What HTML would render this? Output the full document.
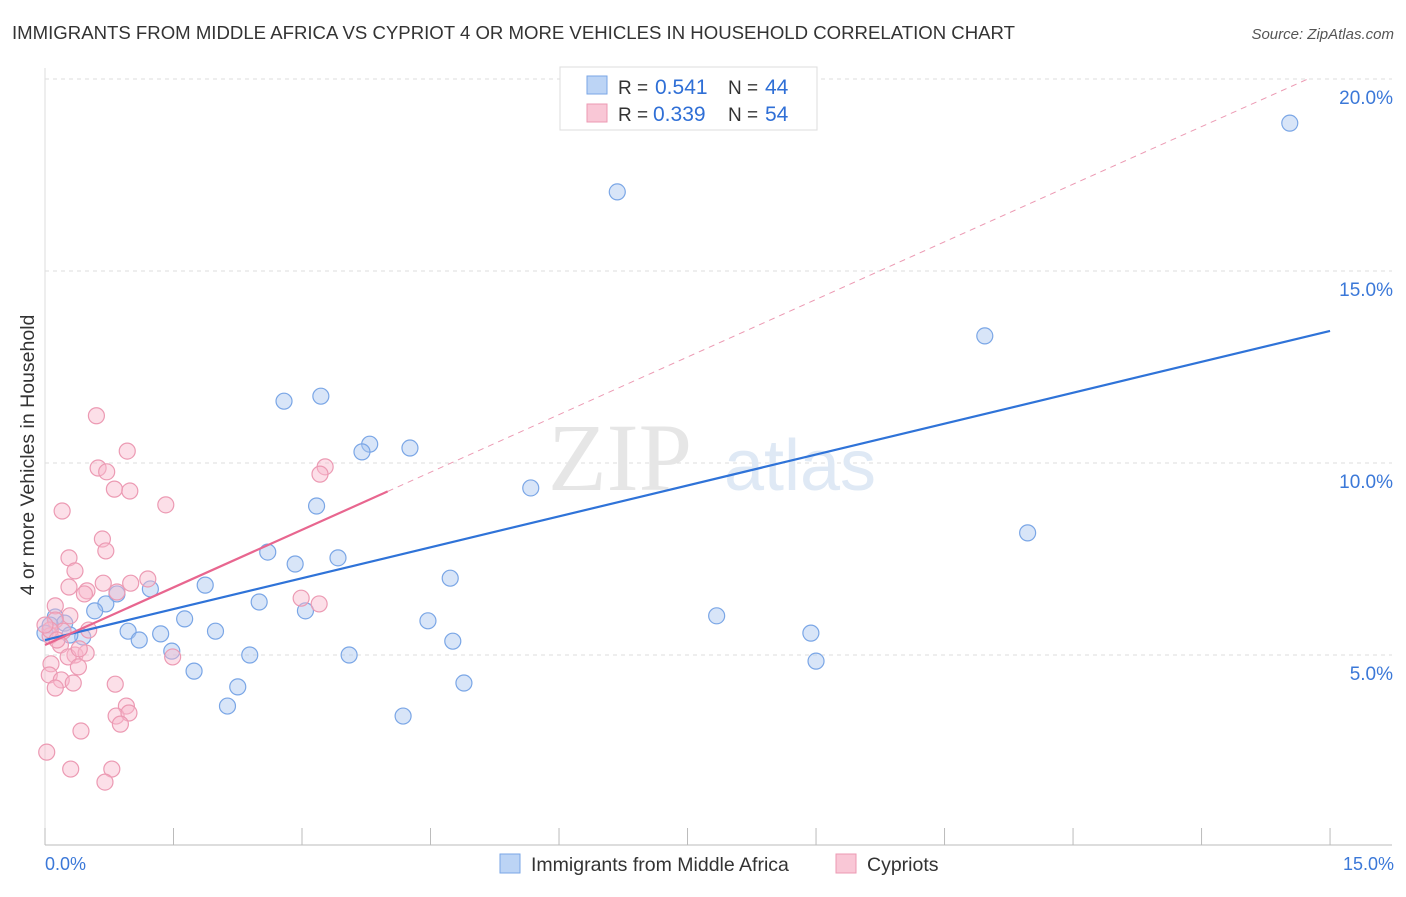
<!DOCTYPE html>
<html><head><meta charset="utf-8"><style>
body{margin:0;background:#fff;font-family:"Liberation Sans",sans-serif;}
</style></head><body>
<svg width="1406" height="892" xmlns="http://www.w3.org/2000/svg">
<text x="12" y="39" font-size="18" fill="#333" textLength="1003" lengthAdjust="spacingAndGlyphs">IMMIGRANTS FROM MIDDLE AFRICA VS CYPRIOT 4 OR MORE VEHICLES IN HOUSEHOLD CORRELATION CHART</text>
<text x="1394" y="39" font-size="15" fill="#555" font-style="italic" text-anchor="end">Source: ZipAtlas.com</text>
<g id="grid"></g>
<text x="620" y="490" font-size="96" fill="#e6e6e6" font-family="Liberation Serif" text-anchor="middle">ZIP</text>
<text x="800" y="490" font-size="72" fill="#dfe9f5" text-anchor="middle">atlas</text>
<g id="pts"></g>
<g id="lines"></g>
<text x="34" y="455" font-size="19.5" fill="#333" text-anchor="middle" transform="rotate(-90 34 455)">4 or more Vehicles in Household</text>
<text x="45" y="870" font-size="18" fill="#3b78d8">0.0%</text>
<text x="1394" y="870" font-size="18" fill="#3b78d8" text-anchor="end">15.0%</text>
<g>
<rect x="560" y="67" width="257" height="63" fill="#fff" stroke="#ddd"/>
<rect x="587" y="76" width="20" height="18" fill="#bcd4f5" stroke="#7aa6e6"/>
<text x="618" y="94" font-size="19" fill="#333">R =</text>
<text x="655" y="94" font-size="21" fill="#2f6fd6">0.541</text>
<text x="728" y="94" font-size="19" fill="#333">N =</text>
<text x="765" y="94" font-size="21" fill="#2f6fd6">44</text>
<rect x="587" y="104" width="20" height="18" fill="#f9c7d6" stroke="#ec9ab3"/>
<text x="618" y="121" font-size="19" fill="#333">R =</text>
<text x="653" y="121" font-size="21" fill="#2f6fd6">0.339</text>
<text x="728" y="121" font-size="19" fill="#333">N =</text>
<text x="765" y="121" font-size="21" fill="#2f6fd6">54</text>
</g>
<g>
<rect x="500" y="854" width="20" height="19" fill="#bcd4f5" stroke="#7aa6e6"/>
<text x="531" y="871" font-size="19.5" fill="#333">Immigrants from Middle Africa</text>
<rect x="836" y="854" width="20" height="19" fill="#f9c7d6" stroke="#ec9ab3"/>
<text x="867" y="871" font-size="19.5" fill="#333">Cypriots</text>
</g>
</svg>
<script>
const yTicks=[5,10,15,20];
const xTicks=[0,1.5,3,4.5,6,7.5,9,10.5,12,13.5,15];
const blueX=[14.53,6.68,10.97,3.22,2.79,3.79,3.7,4.26,5.67,3.17,11.47,2.6,2.92,3.42,4.73,1.87,1.23,0.84,0.71,0.58,2.5,3.04,1.63,4.47,7.84,0.97,1.35,1.99,1.10,4.76,8.94,0.12,0.23,0.44,0.29,1.48,2.39,3.55,9.0,1.74,2.25,4.89,2.13,4.18,0.06,0];
const blueY=[18.85,17.06,13.31,11.74,11.61,10.49,10.29,10.39,9.35,8.88,8.18,7.68,7.37,7.53,7.0,6.82,6.72,6.59,6.33,6.15,6.38,6.15,5.94,5.89,6.02,5.62,5.55,5.62,5.39,5.36,5.57,5.99,5.83,5.47,5.52,5.1,5.0,5.0,4.84,4.58,4.17,4.27,3.67,3.41,5.78,5.57];
const pinkX=[0.6,0.96,0.62,0.72,3.27,3.21,0.81,0.99,1.41,0.2,0.67,0.71,0.28,0.35,1.2,1.0,0.68,0.28,0.49,0.84,0.46,2.99,3.2,0.12,0.29,0.12,0.51,0.21,0.06,0.18,0.35,0.27,0.48,0.4,1.49,0.07,0.39,0.05,0.19,0.33,0.82,0.12,0.95,0.83,0.98,0.88,0.42,0.02,0.3,0.78,0.7,0.06,0,0.14];
const pinkY=[11.23,10.31,9.87,9.77,9.9,9.71,9.32,9.27,8.91,8.75,8.02,7.71,7.53,7.19,6.98,6.87,6.87,6.77,6.67,6.64,6.59,6.48,6.33,6.28,6.02,5.91,5.65,5.62,5.5,5.26,5.0,4.95,5.05,5.16,4.95,4.77,4.69,4.48,4.35,4.27,4.24,4.14,3.67,3.41,3.49,3.2,3.02,2.47,2.03,2.03,1.69,5.65,5.78,5.39];
const blueLine=[5.39,13.44];
const pinkLine=[5.26,1.0,4.0];
const X=v=>45+v*85.67, Y=v=>847-v*38.4;
const ns="http://www.w3.org/2000/svg";
function mk(t,a,p){const e=document.createElementNS(ns,t);for(const k in a)e.setAttribute(k,a[k]);document.getElementById(p).appendChild(e);return e;}
mk('line',{x1:45,y1:845,x2:1392,y2:845,stroke:'#bbb'},'grid');
mk('line',{x1:45,y1:68,x2:45,y2:845,stroke:'#ddd'},'grid');
yTicks.forEach(t=>{const l=mk('line',{x1:45,y1:Y(t),x2:1392,y2:Y(t),stroke:'#ddd','stroke-dasharray':'4,4'},'grid');


const tx=mk('text',{x:1393,y:Y(t)+25,'font-size':19,fill:'#3b78d8','text-anchor':'end'},'grid');tx.textContent=t.toFixed(1)+'%';

});
xTicks.forEach(t=>{const l=mk('line',{x1:X(t),y1:828,x2:X(t),y2:845,stroke:'#bbb'},'grid');

});
blueX.forEach((v,i)=>{const c=mk('circle',{cx:X(v),cy:Y(blueY[i]),r:8,fill:'rgba(168,198,240,0.45)',stroke:'#7aa6e6','stroke-width':1.2},'pts');

});
pinkX.forEach((v,i)=>{const c=mk('circle',{cx:X(v),cy:Y(pinkY[i]),r:8,fill:'rgba(248,184,204,0.45)',stroke:'#ec9ab3','stroke-width':1.2},'pts');

});
let l=mk('line',{x1:X(0),y1:Y(blueLine[0]),x2:X(15),y2:Y(blueLine[1]),stroke:'#2f73d8','stroke-width':2.2},'lines');


const pe=pinkLine[2], pyEnd=pinkLine[0]+pinkLine[1]*pe, xd=(20.0-pinkLine[0])/pinkLine[1];
l=mk('line',{x1:X(0),y1:Y(pinkLine[0]),x2:X(pe),y2:Y(pyEnd),stroke:'#e8668f','stroke-width':2.2},'lines');


l=mk('line',{x1:X(pe),y1:Y(pyEnd),x2:X(xd),y2:Y(20.0),stroke:'#ec9ab3','stroke-width':1,'stroke-dasharray':'6,5'},'lines');


</script>
</body></html>
